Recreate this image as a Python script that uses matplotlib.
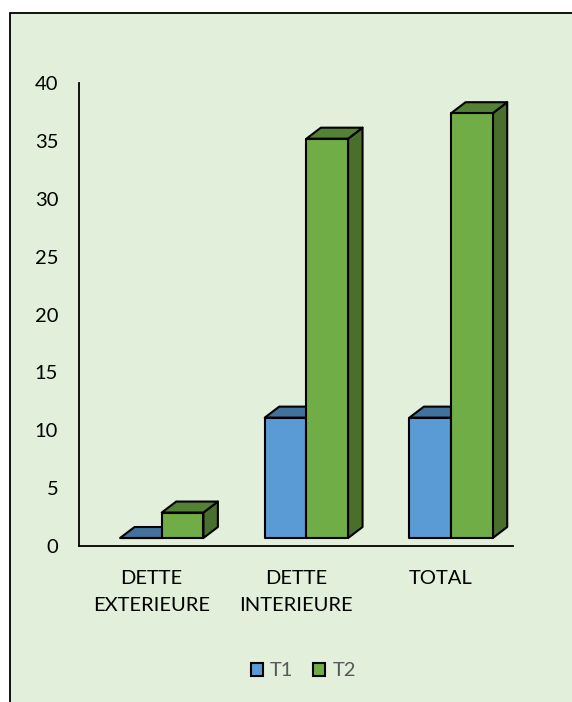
import matplotlib
matplotlib.use('Agg')
from matplotlib import pyplot as plt
from matplotlib.patches import Polygon, Rectangle, Patch

categories = ['DETTE\nEXTERIEURE', 'DETTE\nINTERIEURE', 'TOTAL']
series = ['T1', 'T2']
t1 = [0.0, 10.4, 10.4]
t2 = [2.2, 34.5, 36.7]
yticks = [0, 5, 10, 15, 20, 25, 30, 35, 40]

# front, top, side colours per series
COLS = {'T1': ('#5B9BD5', '#41719C', '#3A6590'),
        'T2': ('#70AD47', '#548235', '#4A6E2B')}

W, H = 572, 702
FS = 14.5
plt.rcParams['font.family'] = ['Lato', 'DejaVu Sans']
fig = plt.figure(figsize=(W / 100, H / 100), dpi=100, facecolor='white')

# chart area with black frame (cut off at right and bottom)
fig.patches.append(Rectangle((10 / W, -0.1), 1.2, 1.1 - 13 / H,
                             transform=fig.transFigure, facecolor='#E2EFDA',
                             edgecolor='black', lw=1.3, zorder=-10))

ax = fig.add_axes([79 / W, 1 - 546 / H, (513 - 79) / W, (546 - 83) / H])
ax.set_facecolor('none')
ax.set_xlim(-0.5, 2.5)
ax.set_ylim(0, 40)

# 3d look, in data units
bw = 0.288      # bar width
shift = 0.072   # group offset from category centre
dx, dy = 0.10, 0.95
base = 0.69

for s, (name, vals) in enumerate(zip(series, (t1, t2))):
    front_c, top_c, side_c = COLS[name]
    for i, v in enumerate(vals):
        x0 = i + shift + (s - 1) * bw
        x1 = x0 + bw
        y0, y1 = base, base + v
        front = [(x0, y0), (x1, y0), (x1, y1), (x0, y1)]
        top = [(x0, y1), (x1, y1), (x1 + dx, y1 + dy), (x0 + dx, y1 + dy)]
        side = [(x1, y0), (x1 + dx, y0 + dy), (x1 + dx, y1 + dy), (x1, y1)]
        for pts, c in ((side, side_c), (top, top_c), (front, front_c)):
            ax.add_patch(Polygon(pts, closed=True, facecolor=c, edgecolor='black',
                                 lw=1.5, joinstyle='round', clip_on=False))

for sp in ('top', 'right'):
    ax.spines[sp].set_visible(False)
for sp in ('left', 'bottom'):
    ax.spines[sp].set_linewidth(1.3)
    ax.spines[sp].set_color('black')

ax.set_yticks(yticks)
ax.set_xticks(range(len(categories)))
ax.set_xticklabels(categories, linespacing=1.75)
ax.tick_params(axis='y', length=0, pad=15, labelsize=FS, labelcolor='#000000')
ax.tick_params(axis='x', length=0, pad=17, labelsize=FS, labelcolor='#000000')

handles = [Patch(facecolor=COLS[n][0], edgecolor='black', lw=1.5, label=n) for n in series]
fig.legend(handles=handles, loc='center', bbox_to_anchor=(0.53, 1 - 671 / H),
           ncol=2, frameon=False, fontsize=FS, labelcolor='#595959',
           handlelength=0.6, handleheight=0.6, handletextpad=0.35, columnspacing=1.0)

fig.savefig('out.png', dpi=100, facecolor=fig.get_facecolor())
